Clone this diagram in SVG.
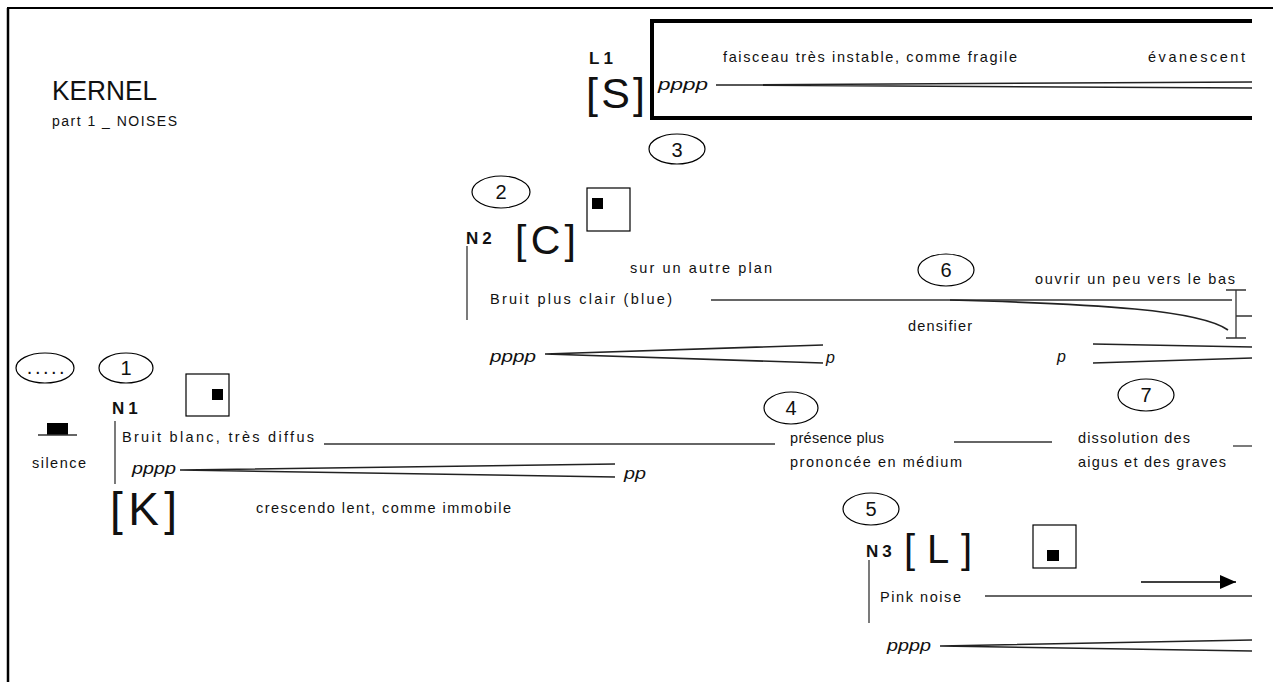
<svg xmlns="http://www.w3.org/2000/svg" width="1273" height="682" viewBox="0 0 1273 682">
<style>
text{font-family:"Liberation Sans",Arial,sans-serif;fill:#111}
.t{font-size:14.5px}
.dyn{font-size:16px;font-style:italic}
.lbl{font-size:17px;font-weight:bold;letter-spacing:4px}
.num{font-size:20px;text-anchor:middle}
.ln{stroke:#333;stroke-width:1.3;fill:none}
.hp{stroke:#222;stroke-width:1.6;fill:none}
.th{stroke:#000;stroke-width:4;fill:none}
.ell{fill:none;stroke:#000;stroke-width:1.2}
.sq{fill:#fff;stroke:#000;stroke-width:1.2}
</style>
<defs>
<marker id="ah" markerWidth="16" markerHeight="14" refX="16" refY="7" orient="auto" markerUnits="userSpaceOnUse"><path d="M0,0 L16,7 L0,14 Z" fill="#000"/></marker>
</defs>
<rect width="1273" height="682" fill="#fff"/>
<g id="frame">
<line x1="7" y1="8" x2="1273" y2="8" stroke="#000" stroke-width="2"/>
<line x1="8" y1="8" x2="8" y2="682" stroke="#000" stroke-width="2.5"/>
</g>
<g id="title">
<text x="52" y="100" font-size="28" textLength="105" lengthAdjust="spacingAndGlyphs">KERNEL</text>
<text x="52" y="126" font-size="14" textLength="125" lengthAdjust="spacing">part 1 _ NOISES</text>
</g>
<g id="L1">
<text x="589" y="64" class="lbl">L1</text>
<text x="586" y="108" font-size="43" textLength="59" lengthAdjust="spacing">[S]</text>
<path class="th" d="M652,21 H1252 M652,118 H1252 M652,19 V120"/>
<text x="723" y="62" class="t" textLength="294" lengthAdjust="spacing">faisceau très instable, comme fragile</text>
<text x="1148" y="62" class="t" textLength="97" lengthAdjust="spacing">évanescent</text>
<text x="658" y="90" class="dyn" textLength="50" lengthAdjust="spacingAndGlyphs">pppp</text>
<path class="hp" d="M716,85 L1252,82 M716,85 L1252,88"/>
</g>
<g id="c3"><ellipse class="ell" cx="677" cy="149" rx="28" ry="15"/><text x="677" y="157" class="num">3</text></g>
<g id="c2"><ellipse class="ell" cx="501" cy="192" rx="29" ry="16"/><text x="501" y="199" class="num">2</text></g>
<g id="N2">
<rect class="sq" x="587" y="188" width="43" height="43"/>
<rect x="592" y="198" width="11" height="11" fill="#000"/>
<text x="466" y="244" class="lbl" font-size="18">N2</text>
<text x="515" y="254" font-size="41" textLength="61" lengthAdjust="spacing">[C]</text>
<line class="ln" x1="467" y1="246" x2="467" y2="320"/>
<text x="630" y="273" class="t" textLength="142" lengthAdjust="spacing">sur un autre plan</text>
<text x="490" y="304" class="t" textLength="182" lengthAdjust="spacing">Bruit plus clair (blue)</text>
<path class="ln" d="M711,300 H1232"/>
<path class="hp" d="M950,300 C1100,304 1200,310 1228,330"/>
<path class="ln" d="M1236,290 V338 M1226,290 H1246 M1226,338 H1246 M1236,316 H1252"/>
<text x="908" y="331" class="t" textLength="64" lengthAdjust="spacing">densifier</text>
<text x="490" y="362" class="dyn" textLength="46" lengthAdjust="spacingAndGlyphs">pppp</text>
<path class="hp" d="M545,354 L823,345 M545,354 L823,363"/>
<text x="826" y="363" class="dyn">p</text>
</g>
<g id="c6"><ellipse class="ell" cx="946" cy="270" rx="28" ry="16"/><text x="946" y="277" class="num">6</text></g>
<g id="n6">
<text x="1035" y="284" class="t" textLength="200" lengthAdjust="spacing">ouvrir un peu vers le bas</text>
<text x="1057" y="362" class="dyn">p</text>
<path class="hp" d="M1093,344 L1252,347 M1093,363 L1252,358"/>
</g>
<g id="c0"><ellipse class="ell" cx="45" cy="368" rx="29" ry="15"/><text x="47" y="374" class="num" font-size="14" letter-spacing="2.5">.....</text></g>
<g id="c1"><ellipse class="ell" cx="126" cy="368" rx="27" ry="15"/><text x="126" y="375" class="num">1</text></g>
<g id="silence">
<rect x="47" y="423" width="21" height="12" fill="#000"/>
<line class="ln" x1="38" y1="435" x2="77" y2="435"/>
<text x="32" y="468" class="t" textLength="54" lengthAdjust="spacing">silence</text>
</g>
<g id="N1">
<rect class="sq" x="186" y="374" width="43" height="42"/>
<rect x="212" y="389" width="11" height="11" fill="#000"/>
<text x="112" y="414" class="lbl">N1</text>
<line class="ln" x1="115" y1="421" x2="115" y2="484"/>
<text x="122" y="442" class="t" textLength="192" lengthAdjust="spacing">Bruit blanc,  très diffus</text>
<text x="132" y="474" class="dyn" textLength="44" lengthAdjust="spacingAndGlyphs">pppp</text>
<path class="hp" d="M180,470 L615,464 M180,470 L615,477"/>
<text x="624" y="479" class="dyn" textLength="22" lengthAdjust="spacingAndGlyphs">pp</text>
<text x="110" y="525" font-size="46" textLength="67" lengthAdjust="spacing">[K]</text>
<text x="256" y="513" class="t" textLength="255" lengthAdjust="spacing">crescendo lent, comme immobile</text>
</g>
<g id="c4"><ellipse class="ell" cx="791" cy="408" rx="27" ry="16"/><text x="791" y="415" class="num">4</text></g>
<g id="n4">
<text x="790" y="443" class="t" textLength="94" lengthAdjust="spacing">présence plus</text>
<text x="790" y="467" class="t" textLength="172" lengthAdjust="spacing">prononcée en médium</text>
</g>
<g id="c7"><ellipse class="ell" cx="1146" cy="395" rx="28" ry="16"/><text x="1146" y="402" class="num">7</text></g>
<g id="n7">
<text x="1078" y="443" class="t" textLength="112" lengthAdjust="spacing">dissolution des</text>
<text x="1078" y="467" class="t" textLength="148" lengthAdjust="spacing">aigus  et des graves</text>
</g>
<g id="c5"><ellipse class="ell" cx="871" cy="509" rx="28" ry="16"/><text x="871" y="516" class="num">5</text></g>
<g id="N3">
<text x="866" y="557" class="lbl">N3</text>
<text x="904" y="563" font-size="40" textLength="68" lengthAdjust="spacing">[L]</text>
<rect class="sq" x="1033" y="525" width="43" height="43"/>
<rect x="1047" y="550" width="12" height="11" fill="#000"/>
<line class="ln" x1="869" y1="560" x2="869" y2="623"/>
<text x="880" y="602" class="t" textLength="81" lengthAdjust="spacing">Pink noise</text>
<text x="887" y="651" class="dyn" textLength="44" lengthAdjust="spacingAndGlyphs">pppp</text>
<path class="hp" d="M940,646 L1252,640 M940,646 L1252,651"/>
</g>
<g id="connectors">
<line class="ln" x1="324" y1="444" x2="775" y2="444"/>
<line class="ln" x1="954" y1="442" x2="1052" y2="442"/>
<line class="ln" x1="1233" y1="446" x2="1252" y2="446"/>
<line class="ln" x1="985" y1="596" x2="1252" y2="596" stroke="#000"/>
<line x1="1141" y1="582" x2="1236" y2="582" marker-end="url(#ah)" stroke="#000" stroke-width="1.5"/>
</g>
</svg>
